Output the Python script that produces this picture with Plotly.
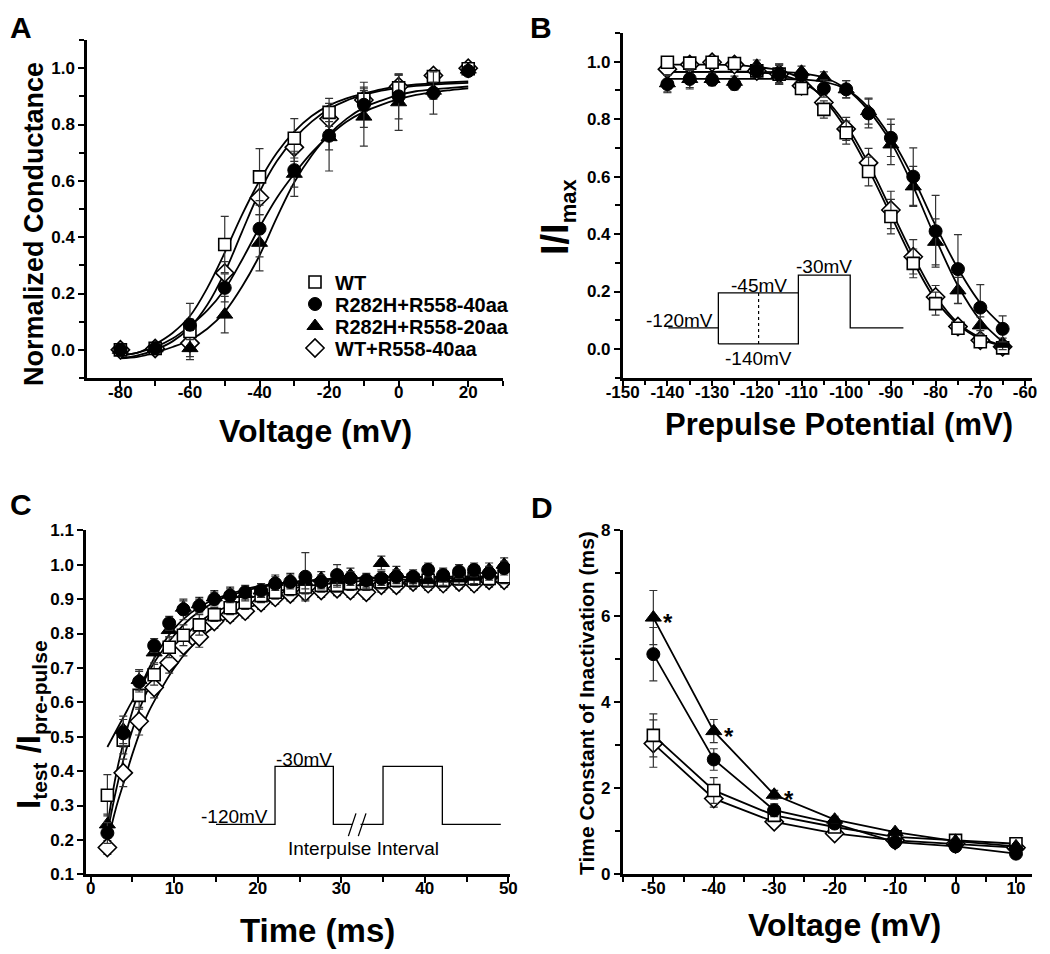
import plotly.graph_objects as go

FONT = "Liberation Sans, Arial, Helvetica, sans-serif"
NAMES = ["WT", "R282H+R558-40aa", "R282H+R558-20aa", "WT+R558-40aa"]

# ---------------- Panel A : activation ----------------
A_volt = [-80, -70, -60, -50, -40, -30, -20, -10, 0, 10, 20]
A_wt = [0.0, 0.005, 0.065, 0.374, 0.614, 0.751, 0.843, 0.89, 0.93, 0.97, 0.998]
A_c40 = [0.0, 0.005, 0.089, 0.22, 0.43, 0.638, 0.76, 0.87, 0.90, 0.912, 0.99]
A_c20 = [0.0, 0.005, 0.006, 0.125, 0.38, 0.625, 0.755, 0.828, 0.879, 0.92, 0.995]
A_wt40 = [0.0, 0.005, 0.024, 0.273, 0.54, 0.719, 0.82, 0.887, 0.935, 0.974, 1.0]
A_wt_err = [0.01, 0.01, 0.10, 0.10, 0.10, 0.07, 0.05, 0.03, 0.045, 0.02, 0.01]
A_c40_err = [0.01, 0.01, 0.02, 0.05, 0.10, 0.06, 0.05, 0.08, 0.08, 0.075, 0.01]
A_c20_err = [0.01, 0.01, 0.03, 0.065, 0.10, 0.08, 0.12, 0.105, 0.10, 0.03, 0.01]
A_wt40_err = [0.01, 0.01, 0.02, 0.04, 0.06, 0.05, 0.04, 0.04, 0.04, 0.02, 0.01]

A_fit_v = [-80, -75, -70, -65, -60, -55, -50, -45, -40, -35, -30, -25, -20, -15, -10, -5, 0, 5, 10, 15, 20]
A_fit_wt = [-0.02, -0.01, 0.02, 0.06, 0.12, 0.22, 0.345, 0.48, 0.60, 0.70, 0.775, 0.83, 0.868, 0.893, 0.91, 0.925, 0.935, 0.942, 0.947, 0.95, 0.953]
A_fit_c40 = [-0.02, -0.01, 0.01, 0.04, 0.085, 0.14, 0.215, 0.32, 0.435, 0.54, 0.625, 0.70, 0.76, 0.81, 0.845, 0.87, 0.89, 0.905, 0.915, 0.922, 0.928]
A_fit_c20 = [-0.03, -0.025, -0.01, 0.01, 0.035, 0.075, 0.135, 0.225, 0.335, 0.47, 0.595, 0.69, 0.765, 0.82, 0.86, 0.885, 0.905, 0.918, 0.925, 0.93, 0.935]
A_fit_wt40 = [-0.03, -0.02, 0.0, 0.03, 0.08, 0.16, 0.275, 0.42, 0.56, 0.67, 0.75, 0.81, 0.855, 0.885, 0.905, 0.92, 0.93, 0.937, 0.942, 0.945, 0.948]
A_xticks = [-80, -60, -40, -20, 0, 20]

# ---------------- Panel B : steady-state inactivation ----------------
B_volt = [-140, -135, -130, -125, -120, -115, -110, -105, -100, -95, -90, -85, -80, -75, -70, -65]
B_wt = [0.998, 0.995, 0.998, 0.994, 0.968, 0.957, 0.907, 0.834, 0.753, 0.618, 0.461, 0.298, 0.158, 0.072, 0.025, 0.004]
B_c40 = [0.922, 0.94, 0.937, 0.922, 0.968, 0.957, 0.953, 0.907, 0.904, 0.82, 0.735, 0.60, 0.41, 0.278, 0.144, 0.07]
B_c20 = [0.925, 0.94, 0.94, 0.93, 0.986, 0.957, 0.965, 0.945, 0.904, 0.828, 0.712, 0.566, 0.373, 0.204, 0.082, 0.018]
B_wt40 = [0.974, 0.99, 0.998, 0.99, 0.968, 0.957, 0.916, 0.858, 0.766, 0.648, 0.484, 0.321, 0.181, 0.078, 0.03, 0.008]
B_wt_err = [0.02, 0.015, 0.01, 0.01, 0.02, 0.035, 0.02, 0.03, 0.04, 0.05, 0.06, 0.05, 0.04, 0.02, 0.015, 0.01]
B_c40_err = [0.03, 0.035, 0.02, 0.02, 0.02, 0.035, 0.02, 0.03, 0.03, 0.05, 0.065, 0.10, 0.125, 0.12, 0.08, 0.045]
B_c20_err = [0.03, 0.03, 0.02, 0.02, 0.02, 0.03, 0.02, 0.02, 0.03, 0.045, 0.07, 0.07, 0.08, 0.045, 0.03, 0.02]
B_wt40_err = [0.02, 0.015, 0.01, 0.01, 0.02, 0.035, 0.02, 0.03, 0.04, 0.05, 0.065, 0.06, 0.04, 0.02, 0.015, 0.01]

B_fit_v = B_volt
B_fit_wt = [0.99, 0.99, 0.99, 0.988, 0.982, 0.97, 0.94, 0.87, 0.765, 0.625, 0.465, 0.305, 0.17, 0.085, 0.035, 0.01]
B_fit_c40 = [0.94, 0.94, 0.94, 0.94, 0.94, 0.94, 0.938, 0.93, 0.905, 0.84, 0.735, 0.595, 0.43, 0.28, 0.16, 0.08]
B_fit_c20 = [0.965, 0.965, 0.965, 0.965, 0.965, 0.964, 0.96, 0.945, 0.905, 0.83, 0.72, 0.565, 0.385, 0.22, 0.10, 0.025]
B_fit_wt40 = [0.965, 0.965, 0.965, 0.965, 0.962, 0.955, 0.93, 0.875, 0.78, 0.645, 0.485, 0.325, 0.185, 0.09, 0.04, 0.012]
B_xticks = [-150, -140, -130, -120, -110, -100, -90, -80, -70, -60]

# ---------------- Panel C : recovery from inactivation ----------------
C_time = [2.0, 3.9, 5.8, 7.6, 9.4, 11.1, 13.0, 14.8, 16.7, 18.5, 20.4, 22.1, 23.9, 25.7,
          27.6, 29.5, 31.1, 33.0, 34.8, 36.6, 38.6, 40.4, 42.2, 44.1, 45.9, 47.7, 49.5]
C_wt = [0.33, 0.49, 0.62, 0.68, 0.76, 0.795, 0.825, 0.855, 0.875, 0.89, 0.91, 0.92, 0.93, 0.935,
        0.94, 0.94, 0.945, 0.945, 0.95, 0.955, 0.955, 0.955, 0.955, 0.96, 0.96, 0.96, 0.965]
C_c40 = [0.22, 0.51, 0.66, 0.765, 0.83, 0.87, 0.88, 0.90, 0.91, 0.92, 0.925, 0.945, 0.95, 0.965,
         0.95, 0.97, 0.96, 0.955, 0.96, 0.965, 0.965, 0.985, 0.97, 0.98, 0.985, 0.975, 0.99]
C_c20 = [0.245, 0.52, 0.665, 0.745, 0.81, 0.875, 0.885, 0.905, 0.915, 0.915, 0.925, 0.95, 0.955, 0.95,
         0.96, 0.955, 0.97, 0.95, 1.005, 0.975, 0.96, 0.955, 0.96, 0.96, 0.965, 0.985, 1.0]
C_wt40 = [0.178, 0.395, 0.545, 0.643, 0.715, 0.765, 0.79, 0.835, 0.855, 0.865, 0.89, 0.905, 0.915, 0.92,
          0.925, 0.93, 0.925, 0.92, 0.94, 0.94, 0.95, 0.945, 0.945, 0.95, 0.945, 0.955, 0.955]
C_wt_err = [0.06, 0.04, 0.04, 0.03, 0.03, 0.03, 0.03, 0.02, 0.02, 0.02, 0.02, 0.02, 0.02, 0.02,
            0.02, 0.02, 0.02, 0.02, 0.02, 0.02, 0.02, 0.02, 0.02, 0.02, 0.02, 0.02, 0.02]
C_c40_err = [0.03, 0.04, 0.03, 0.02, 0.02, 0.03, 0.02, 0.02, 0.02, 0.02, 0.02, 0.02, 0.02, 0.07,
             0.02, 0.03, 0.02, 0.02, 0.02, 0.02, 0.02, 0.02, 0.02, 0.02, 0.02, 0.02, 0.02]
C_c20_err = [0.03, 0.04, 0.03, 0.03, 0.02, 0.02, 0.02, 0.02, 0.02, 0.02, 0.02, 0.02, 0.02, 0.02,
             0.02, 0.02, 0.02, 0.02, 0.02, 0.02, 0.02, 0.02, 0.02, 0.02, 0.02, 0.02, 0.02]
C_wt40_err = [0.02, 0.04, 0.04, 0.03, 0.03, 0.03, 0.03, 0.02, 0.02, 0.02, 0.02, 0.02, 0.02, 0.02,
              0.02, 0.02, 0.02, 0.02, 0.02, 0.02, 0.02, 0.02, 0.02, 0.02, 0.02, 0.02, 0.02]

C_fit_t = [2, 3, 4, 5, 6, 7, 8, 10, 12, 14, 16, 18, 20, 25, 30, 35, 40, 45, 50]
C_fit_c40 = [0.47, 0.515, 0.56, 0.605, 0.645, 0.69, 0.73, 0.795, 0.845, 0.88, 0.905, 0.92, 0.933, 0.95, 0.958, 0.962, 0.964, 0.965, 0.965]
C_fit_c20 = [0.24, 0.385, 0.49, 0.575, 0.645, 0.70, 0.745, 0.815, 0.86, 0.89, 0.91, 0.925, 0.937, 0.952, 0.96, 0.963, 0.965, 0.965, 0.965]
C_fit_wt = [0.22, 0.34, 0.44, 0.52, 0.59, 0.645, 0.69, 0.76, 0.81, 0.85, 0.875, 0.895, 0.91, 0.935, 0.948, 0.955, 0.958, 0.96, 0.96]
C_fit_wt40 = [0.19, 0.29, 0.37, 0.45, 0.52, 0.575, 0.62, 0.70, 0.76, 0.805, 0.84, 0.865, 0.885, 0.915, 0.935, 0.945, 0.95, 0.955, 0.958]

# ---------------- Panel D : time constant of inactivation ----------------
D_volt = [-50, -40, -30, -20, -10, 0, 10]
D_wt = [3.23, 1.95, 1.37, 1.10, 0.87, 0.79, 0.71]
D_c40 = [5.12, 2.67, 1.49, 1.18, 0.75, 0.65, 0.48]
D_c20 = [5.97, 3.33, 1.85, 1.27, 0.98, 0.77, 0.65]
D_wt40 = [3.04, 1.76, 1.22, 0.95, 0.79, 0.71, 0.62]
D_wt_err = [0.5, 0.3, 0.12, 0.08, 0.06, 0.05, 0.05]
D_c40_err = [0.62, 0.25, 0.15, 0.08, 0.05, 0.05, 0.05]
D_c20_err = [0.63, 0.27, 0.10, 0.08, 0.06, 0.05, 0.05]
D_wt40_err = [0.55, 0.2, 0.10, 0.07, 0.05, 0.05, 0.05]
D_star_volt = [-50, -40, -30]
D_star_val = [5.97, 3.33, 1.85]
D_xticks = [-50, -40, -30, -20, -10, 0, 10]

# ---------------- page geometry (browser body has an 8px margin) ----------------
OFF = 8
W, H = 1050 - OFF, 954 - OFF


def fx(p):
    return (p - OFF) / W


def fy(p):
    return 1 - (p - OFF) / H


SYM = [dict(symbol="square", color="white", size=12, line=dict(color="black", width=1.6)),
       dict(symbol="circle", color="black", size=13, line=dict(color="black", width=1)),
       dict(symbol="triangle-up", color="black", size=14, line=dict(color="black", width=1)),
       dict(symbol="diamond", color="white", size=14, line=dict(color="black", width=1.6))]

fig = go.Figure()
panels = [
    ("x", "y", A_volt, [A_wt, A_c40, A_c20, A_wt40], [A_wt_err, A_c40_err, A_c20_err, A_wt40_err],
     A_fit_v, [A_fit_wt, A_fit_c40, A_fit_c20, A_fit_wt40]),
    ("x2", "y2", B_volt, [B_wt, B_c40, B_c20, B_wt40], [B_wt_err, B_c40_err, B_c20_err, B_wt40_err],
     B_fit_v, [B_fit_wt, B_fit_c40, B_fit_c20, B_fit_wt40]),
    ("x3", "y3", C_time, [C_wt, C_c40, C_c20, C_wt40], [C_wt_err, C_c40_err, C_c20_err, C_wt40_err],
     C_fit_t, [C_fit_wt, C_fit_c40, C_fit_c20, C_fit_wt40]),
]
for xa, ya, xs, ys_list, err_list, fxv, fys in panels:
    for fyv in fys:
        fig.add_trace(go.Scatter(x=fxv, y=fyv, mode="lines", xaxis=xa, yaxis=ya, showlegend=False,
                                 line=dict(color="black", width=1.8, shape="spline", smoothing=1.0),
                                 hoverinfo="skip"))
    for i in [3, 0, 2, 1]:
        fig.add_trace(go.Scatter(x=xs, y=ys_list[i], mode="markers", xaxis=xa, yaxis=ya,
                                 name=NAMES[i], showlegend=False, marker=SYM[i],
                                 error_y=dict(type="data", array=err_list[i], color="#333",
                                              thickness=1.2, width=4)))

D_series = [(D_wt, D_wt_err), (D_c40, D_c40_err), (D_c20, D_c20_err), (D_wt40, D_wt40_err)]
for i in [3, 0, 1, 2]:
    ys, es = D_series[i]
    fig.add_trace(go.Scatter(x=D_volt, y=ys, mode="lines+markers", xaxis="x4", yaxis="y4",
                             showlegend=False, name=NAMES[i],
                             line=dict(color="black", width=1.8), marker=SYM[i],
                             error_y=dict(type="data", array=es, color="#333", thickness=1.2, width=4)))

# legend entries (panel A) - one legend per row for exact row spacing
LEG_ROWS = [282, 304, 326, 348]
legend_ids = ["legend", "legend2", "legend3", "legend4"]
for i in range(4):
    fig.add_trace(go.Scatter(x=[None], y=[None], mode="markers", name=NAMES[i], marker=SYM[i],
                             xaxis="x", yaxis="y", showlegend=True, legend=legend_ids[i]))

tickfont = dict(family=FONT, size=17, color="black", weight="bold")


def ax(domain, rng, dtick, tick0, minor_dtick=None, fmt=None, anchor=None, ticklist=None, is_x=False):
    d = dict(domain=domain, range=rng, showline=True, linecolor="black",
             linewidth=2.5, ticks="outside", ticklen=6, tickwidth=2, tickcolor="black",
             showgrid=False, zeroline=False, tickfont=tickfont, anchor=anchor, automargin=False)
    if ticklist is not None:
        d["tickmode"] = "array"
        d["tickvals"] = ticklist
        d["ticktext"] = [str(v) for v in ticklist]
    else:
        d["dtick"] = dtick
        d["tick0"] = tick0
    if minor_dtick:
        d["minor"] = dict(tickmode="linear", dtick=minor_dtick, tick0=tick0, ticks="outside",
                          ticklen=5, tickwidth=2, tickcolor="black", showgrid=False)
    if fmt:
        d["tickformat"] = fmt
    if is_x:
        d["ticklabelstandoff"] = -9
    return d


layout = dict(
    width=W, height=H, paper_bgcolor="white", plot_bgcolor="white",
    margin=dict(l=0, r=0, t=0, b=0, pad=0, autoexpand=False),
    font=dict(family=FONT, color="black"),
    xaxis=ax([fx(87), fx(503)], [-89.6, 30], 20, -80, 10, anchor="y", ticklist=A_xticks, is_x=True),
    yaxis=ax([fy(378), fy(40)], [-0.1, 1.1], 0.2, 0, 0.1, ".1f", anchor="x"),
    xaxis2=ax([fx(622.7), fx(1031.7)], [-150, -58.5], 10, -150, 5, anchor="y2", ticklist=B_xticks, is_x=True),
    yaxis2=ax([fy(377.7), fy(33)], [-0.1, 1.1], 0.2, 0, 0.1, ".1f", anchor="x2"),
    xaxis3=ax([fx(86), fx(510)], [-0.56, 50.2], 10, 0, 5, anchor="y3", is_x=True),
    yaxis3=ax([fy(874.3), fy(530.3)], [0.1, 1.1], 0.1, 0.1, None, ".1f", anchor="x3"),
    xaxis4=ax([fx(622.7), fx(1031.7)], [-55.07, 12.6], 10, -50, 5, anchor="y4", ticklist=D_xticks, is_x=True),
    yaxis4=ax([fy(874.3), fy(530.3)], [0, 8], 2, 0, 1, None, anchor="x4"),
    showlegend=True,
)
for lid, row in zip(legend_ids, LEG_ROWS):
    layout[lid] = dict(x=fx(295), y=fy(row), xanchor="left", yanchor="middle",
                       bgcolor="rgba(0,0,0,0)", borderwidth=0,
                       font=dict(family=FONT, size=20, color="black", weight="bold"),
                       itemwidth=30, tracegroupgap=0)
fig.update_layout(**layout)

ann = []


def T(text, x, y, size, bold=True, angle=0, xanchor="center"):
    ann.append(dict(text=text, x=fx(x), y=fy(y), xref="paper", yref="paper", showarrow=False,
                    textangle=angle, xanchor=xanchor, yanchor="middle",
                    font=dict(family=FONT, size=size, color="black", weight="bold" if bold else "normal")))


def TD(text, x, y, xr, yr, size=19, xanchor="center", bold=False, xshift=0, yshift=0):
    ann.append(dict(text=text, x=x, y=y, xref=xr, yref=yr, showarrow=False, xanchor=xanchor,
                    yanchor="middle", xshift=xshift, yshift=yshift,
                    font=dict(family=FONT, size=size, color="black", weight="bold" if bold else "normal")))


# panel letters
T("A", 21, 27, 30)
T("B", 541, 27, 30)
T("C", 21, 505, 30)
T("D", 542, 507, 30)
# axis titles
T("Voltage (mV)", 315, 431, 32)
T("Normalized Conductance", 34, 224, 27, angle=-90)
T("Prepulse Potential (mV)", 839, 424, 31)
T("I/I<sub><span style='font-size:22px'>max</span></sub>", 558, 217, 38, angle=-90)
T("Time (ms)", 317, 930, 33)
T("I<sub><span style='font-size:21px'>test</span></sub> /I<sub><span style='font-size:21px'>pre-pulse</span></sub>",
  30, 725, 33, angle=-90)
T("Voltage (mV)", 844, 925, 32)
T("Time Constant of Inactivation (ms)", 586, 703, 21, angle=-90)
# inset texts (data coordinates)
TD("-120mV", -129.3, 0.10, "x2", "y2", xanchor="right")
TD("-45mV", -119.6, 0.222, "x2", "y2")
TD("-140mV", -119.6, -0.032, "x2", "y2")
TD("-30mV", -104.9, 0.286, "x2", "y2")
TD("-30mV", 25.5, 0.435, "x3", "y3")
TD("-120mV", 21.5, 0.267, "x3", "y3", xanchor="right")
TD("Interpulse Interval", 32.7, 0.175, "x3", "y3")
# significance stars in D
for sv, sy in zip(D_star_volt, D_star_val):
    TD("*", sv, sy, "x4", "y4", size=24, xanchor="left", bold=True, xshift=8, yshift=-5)
fig.update_layout(annotations=ann)

shapes = [
    dict(type="path", xref="x2", yref="y2", line=dict(color="black", width=1.3),
         path="M-139.8,0.0735 H-128.6 M-128.6,0.0175 V0.195 H-110.7 M-128.6,0.0175 H-110.7 V0.257 H-99.1 V0.0735 H-87.2"),
    dict(type="line", xref="x2", yref="y2", x0=-119.6, x1=-119.6, y0=0.0175, y1=0.195,
         line=dict(color="black", width=1.2, dash="dot")),
    dict(type="path", xref="x3", yref="y3", line=dict(color="black", width=1.3),
         path="M15,0.245 H22.07 V0.4135 H29.05 V0.245 H31.3 M32.3,0.245 H35 V0.4135 H42.1 V0.245 H49.1"),
    dict(type="path", xref="x3", yref="y3", line=dict(color="black", width=1.3),
         path="M30.85,0.211 L31.76,0.277 M32.04,0.211 L32.96,0.277"),
]
fig.update_layout(shapes=shapes)

fig.write_html("out.html")
